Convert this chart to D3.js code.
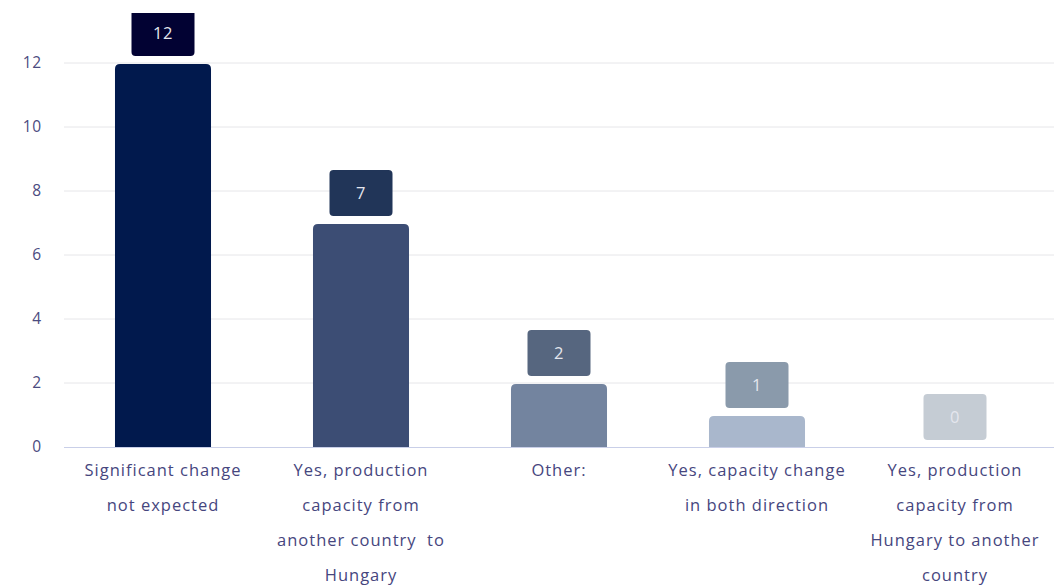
<!DOCTYPE html>
<html>
<head>
<meta charset="utf-8">
<script src="https://cdn.jsdelivr.net/npm/d3@7"></script>
<style>
  html, body { margin: 0; padding: 0; background: #ffffff; }
  svg { display: block; font-family: "Open Sans", "Lato", sans-serif; }
</style>
</head>
<body>
<svg id="chart" width="1055" height="585"></svg>
<script>
// Survey answers: expected shift of production capacity
const categories = [
  "Significant change not expected",
  "Yes, production capacity from another country  to Hungary",
  "Other:",
  "Yes, capacity change in both direction",
  "Yes, production capacity from Hungary to another country"
];
const categoryLines = [
  ["Significant change", "not expected"],
  ["Yes, production", "capacity from", "another country  to", "Hungary"],
  ["Other:"],
  ["Yes, capacity change", "in both direction"],
  ["Yes, production", "capacity from", "Hungary to another", "country"]
];
const values = [12, 7, 2, 1, 0];
const yTicks = [0, 2, 4, 6, 8, 10, 12];
const barColors = ["#01194d", "#3c4d74", "#73849f", "#a9b7cc", "#d3d9e2"];
const badgeColors = ["#020233", "#213558", "#56667f", "#8a9aab", "#c5ccd4"];

const svg = d3.select("#chart");
const margin = { top: 13, left: 64, right: 1, bottom: 138 };
const width = 1055 - margin.left - margin.right;
const plotBottom = 447;

const x = d3.scaleBand()
  .domain(categories)
  .range([margin.left, margin.left + width])
  .paddingInner(0.515)
  .paddingOuter(0.2575);

const y = d3.scaleLinear()
  .domain([0, 12])
  .range([plotBottom, 63]);

// gridlines
svg.append("g")
  .selectAll("line")
  .data(yTicks.filter(d => d !== 0))
  .join("line")
  .attr("x1", margin.left)
  .attr("x2", margin.left + width)
  .attr("y1", d => y(d))
  .attr("y2", d => y(d))
  .attr("stroke", "#e6e6e9")
  .attr("stroke-width", 1);

// y axis labels
const yAxis = d3.axisLeft(y).tickValues(yTicks).tickSize(0).tickPadding(0);
svg.append("g")
  .attr("transform", `translate(42,0)`)
  .call(yAxis)
  .call(g => g.select(".domain").remove())
  .selectAll("text")
  .attr("fill", "#4b4b80")
  .attr("font-size", 15.5)
  .attr("letter-spacing", 0.8)
  .attr("font-family", "'Open Sans', sans-serif");

const clip = svg.append("defs").append("clipPath").attr("id", "plot-clip");
clip.append("rect").attr("x", 0).attr("y", margin.top).attr("width", 1055).attr("height", 585);

const plot = svg.append("g").attr("clip-path", "url(#plot-clip)");

// bars with rounded top corners
function topRounded(x0, y0, w, h, r) {
  if (h <= 0) return "";
  r = Math.min(r, h, w / 2);
  return `M${x0},${y0 + h}V${y0 + r}Q${x0},${y0} ${x0 + r},${y0}H${x0 + w - r}Q${x0 + w},${y0} ${x0 + w},${y0 + r}V${y0 + h}Z`;
}

plot.selectAll("path.bar")
  .data(values)
  .join("path")
  .attr("class", "bar")
  .attr("fill", (d, i) => barColors[i])
  .attr("d", (d, i) => {
    const x0 = x(categories[i]);
    const top = y(d) + 1;
    return topRounded(x0, top, x.bandwidth(), plotBottom - top, 5);
  });

// value badges above bars
const badgeW = 63, badgeH = 46, badgeGap = 8;
const badges = plot.selectAll("g.badge")
  .data(values)
  .join("g")
  .attr("class", "badge")
  .attr("transform", (d, i) => {
    const cx = x(categories[i]) + x.bandwidth() / 2;
    const top = (d === 0 ? plotBottom - 7 : y(d) + 1 - badgeGap) - badgeH;
    return `translate(${cx},${top})`;
  });

badges.append("rect")
  .attr("x", -badgeW / 2)
  .attr("y", 0)
  .attr("width", badgeW)
  .attr("height", badgeH)
  .attr("rx", 4)
  .attr("fill", (d, i) => badgeColors[i]);

badges.append("text")
  .attr("x", 0)
  .attr("y", badgeH / 2 + 6)
  .attr("text-anchor", "middle")
  .attr("font-size", 16.5)
  .attr("letter-spacing", 0.6)
  .attr("fill", "#e4e6ee")
  .text(d => d);

// baseline
svg.append("line")
  .attr("x1", margin.left)
  .attr("x2", margin.left + width)
  .attr("y1", plotBottom + 0.5)
  .attr("y2", plotBottom + 0.5)
  .attr("stroke", "#c9cfe8")
  .attr("stroke-width", 1);

// category labels
const labels = svg.append("g")
  .selectAll("text")
  .data(categories)
  .join("text")
  .attr("text-anchor", "middle")
  .attr("font-size", 16.5)
  .attr("letter-spacing", 1.0)
  .attr("fill", "#46467e")
  .attr("transform", d => `translate(${x(d) + x.bandwidth() / 2},476)`);

labels.selectAll("tspan")
  .data((d, i) => categoryLines[i])
  .join("tspan")
  .attr("x", 0)
  .attr("y", (d, j) => j * 35)
  .attr("xml:space", "preserve")
  .text(d => d);
</script>
</body>
</html>
